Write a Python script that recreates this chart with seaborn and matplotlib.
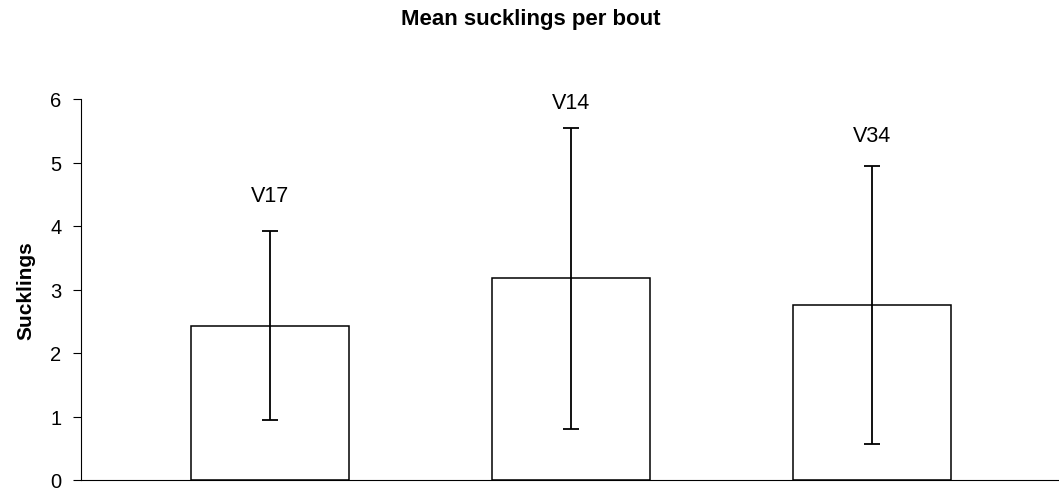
import matplotlib
matplotlib.use("Agg")
import matplotlib.pyplot as plt
import seaborn as sns
import numpy as np

# values
groups = ["V17", "V14", "V34"]
means = [2.43, 3.18, 2.76]
sds = [1.49, 2.37, 2.19]
label_y = [4.48, 5.95, 5.42]   # heights of the group labels above the bars
y_ticks = [0, 1, 2, 3, 4, 5, 6]

sns.set_theme(style="white")
plt.rcParams['font.family'] = ['Liberation Sans', 'DejaVu Sans']
plt.rcParams['text.color'] = 'black'
plt.rcParams['axes.labelcolor'] = 'black'

fig = plt.figure(figsize=(10.59, 4.89), dpi=100)
ax = fig.add_axes([81 / 1059, 8 / 489, 978 / 1059, 381 / 489])

sns.barplot(x=groups, y=means, color="white", edgecolor="black",
            linewidth=1.1, width=0.525, errorbar=None, ax=ax)
ax.errorbar(np.arange(len(groups)), means, yerr=sds, fmt="none",
            ecolor="black", elinewidth=1.3, capsize=6, capthick=1.3)

for i, (g, ly) in enumerate(zip(groups, label_y)):
    ax.text(i, ly, g, ha="center", va="center", fontsize=15.5, color="black")

ax.set_xlim(-0.628, 2.621)
ax.set_ylim(0, 6)
ax.set_yticks(y_ticks)
ax.set_xticks([])
ax.set_xlabel("")
ax.set_ylabel("Sucklings", fontsize=15, fontweight="bold", labelpad=11)
ax.tick_params(axis="y", direction="out", length=6, width=0.8, pad=8,
               labelsize=14.5, left=True, colors="black")

for side in ["top", "right"]:
    ax.spines[side].set_visible(False)
for side in ["left", "bottom"]:
    ax.spines[side].set_color("black")
    ax.spines[side].set_linewidth(0.8)

fig.suptitle("Mean sucklings per bout", x=531 / 1059, y=1 - 20 / 489,
             va="center", fontsize=16, fontweight="bold", color="black")

fig.savefig("out.png", dpi=100, facecolor="white")
